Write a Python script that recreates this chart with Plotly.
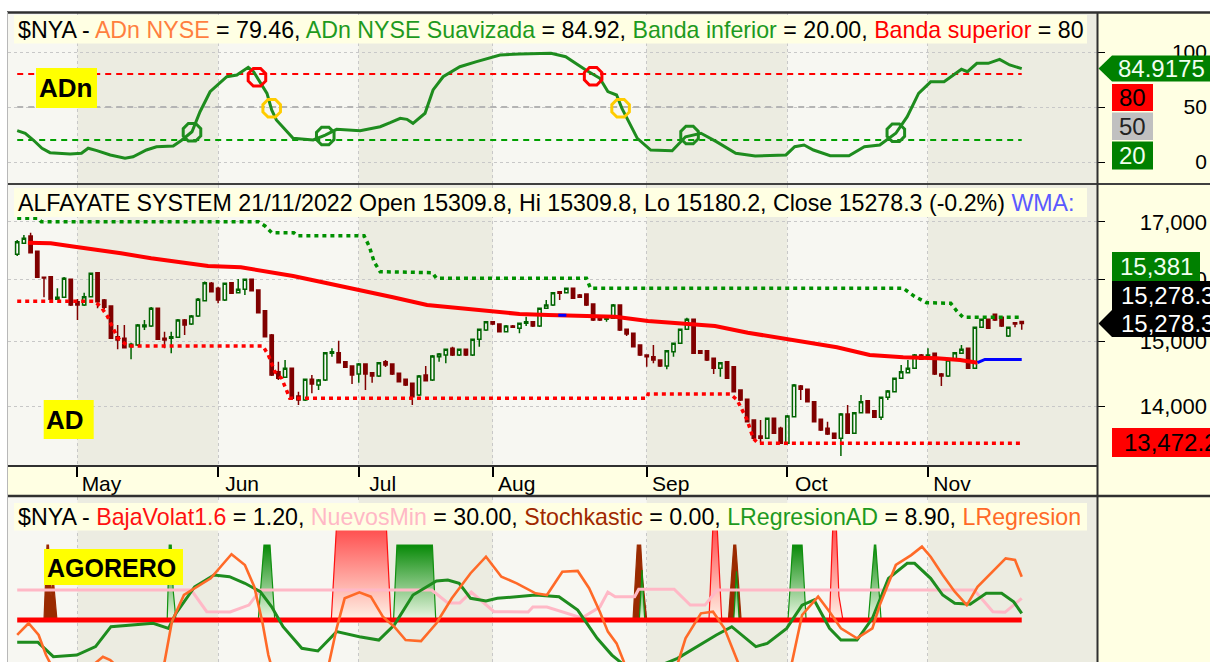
import math
import plotly.graph_objects as go

W, H = 1210, 662
FONT = "Liberation Sans, Arial, sans-serif"

# ---------------- data ----------------
month_idx = [9, 30, 51, 71, 94, 115, 136]
month_names = ["May", "Jun", "Jul", "Aug", "Sep", "Oct", "Nov"]

# ALFAYATE SYSTEM daily candles (bar index 0 = 19/04/2022 ... 150 = 21/11/2022)
ad_open = [16432, 16623, 16751, 16485, 16040, 16050, 15673, 15705, 16006, 15633,
           15579, 15716, 16117, 15661, 15563, 15068, 15043, 14911, 14937, 15226,
           15238, 15525, 15043, 15043, 15059, 15335, 15270, 15400, 15650, 15939,
           15855, 15661, 15949, 15781, 15838, 16006, 15826, 15486, 15095, 14524,
           14438, 14576, 14157, 14098, 14408, 14322, 14397, 14808, 14817, 14677,
           14611, 14489, 14642, 14509, 14458, 14677, 14642, 14499, 14408, 14347,
           14172, 14474, 14397, 14755, 14781, 14886, 14781, 14870, 14781, 15027,
           15174, 15308, 15270, 15147, 15238, 15201, 15281, 15308, 15238, 15525,
           15579, 15798, 15781, 15855, 15743, 15760, 15595, 15389, 15346, 15362,
           15579, 15185, 15122, 14937, 14781, 14755, 14703, 14611, 14833, 14964,
           15185, 15346, 14848, 14848, 14729, 14576, 14677, 14600, 14247, 14108,
           13805, 13574, 13541, 13830, 13685, 13470, 13853, 14307, 14257, 14073,
           13815, 13685, 13613, 13541, 13892, 13613, 13911, 14088, 13940, 13844,
           14138, 14221, 14423, 14509, 14576, 14781, 14729, 14807, 14489, 14458,
           14703, 14807, 14886, 14576, 15217, 15346, 15427, 15378, 15079, 15292,
           15309.8]
ad_high = [16681, 16769, 16809, 16494, 16045, 16055, 15855, 16045, 16015, 15677,
           15781, 16121, 16125, 15677, 15570, 15254, 15254, 14973, 15270, 15335,
           15546, 15533, 15147, 15147, 15351, 15351, 15416, 15694, 15969, 15960,
           15882, 15952, 15960, 16011, 16019, 16015, 15835, 15495, 15111, 14677,
           14703, 14584, 14221, 14420, 14474, 14412, 14828, 14886, 15005, 14685,
           14620, 14657, 14650, 14520, 14672, 14703, 14650, 14510, 14420, 14355,
           14474, 14611, 14781, 14812, 14883, 14911, 14883, 14880, 15040, 15198,
           15319, 15319, 15280, 15254, 15254, 15294, 15389, 15319, 15538, 15661,
           15793, 15810, 15868, 15868, 15760, 15770, 15605, 15416, 15400, 15595,
           15590, 15195, 15130, 14945, 14789, 14937, 14712, 14859, 14977, 15198,
           15373, 15359, 14859, 14855, 14740, 14672, 14685, 14610, 14255, 14115,
           13815, 13805, 13841, 13840, 13708, 13877, 14337, 14322, 14265, 14080,
           13825, 13780, 13620, 13906, 14024, 13921, 14172, 14095, 13950, 14150,
           14247, 14435, 14627, 14703, 14797, 14797, 14886, 14820, 14504, 14719,
           14828, 14937, 14898, 15230, 15359, 15359, 15440, 15389, 15230, 15302,
           15309.8]
ad_low = [16403, 16611, 16455, 16028, 15705, 15665, 15661, 15694, 15563, 15335,
          15563, 15711, 15525, 15513, 15032, 14870, 14883, 14714, 14921, 15174,
          15222, 15016, 14886, 14807, 15048, 15095, 15254, 15384, 15636, 15785,
          15607, 15645, 15760, 15768, 15743, 15801, 15440, 15056, 14459, 14397,
          14428, 14098, 14024, 14083, 14197, 14247, 14382, 14755, 14650, 14581,
          14337, 14356, 14247, 14356, 14443, 14596, 14474, 14360, 14307, 14024,
          14157, 14375, 14382, 14677, 14652, 14765, 14765, 14765, 14765, 14911,
          15158, 15254, 15134, 15134, 15206, 15121, 15238, 15222, 15222, 15513,
          15563, 15661, 15768, 15677, 15694, 15563, 15319, 15319, 15308, 15351,
          15158, 15079, 14898, 14765, 14600, 14652, 14596, 14561, 14755, 14953,
          15174, 14797, 14797, 14688, 14489, 14448, 14412, 14210, 14083, 13769,
          13531, 13479, 13531, 13603, 13460, 13460, 13841, 14098, 14061, 13769,
          13646, 13589, 13531, 13291, 13603, 13603, 13899, 13899, 13834, 13805,
          14098, 14210, 14412, 14496, 14565, 14703, 14714, 14474, 14307, 14443,
          14688, 14797, 14565, 14565, 15206, 15190, 15319, 15222, 15064, 15217,
          15180.2]
ad_close = [16651, 16711, 16460, 16040, 16028, 15673, 15705, 16023, 15579, 15579,
            15716, 16107, 15633, 15541, 15043, 15016, 14895, 14948, 15254, 15254,
            15525, 15027, 15016, 15068, 15335, 15254, 15400, 15673, 15949, 15798,
            15661, 15939, 15771, 15838, 16006, 15814, 15453, 15068, 14474, 14423,
            14576, 14123, 14098, 14408, 14337, 14397, 14817, 14833, 14662, 14591,
            14474, 14642, 14489, 14458, 14662, 14627, 14489, 14372, 14322, 14147,
            14458, 14386, 14765, 14797, 14870, 14781, 14870, 14781, 15027, 15185,
            15308, 15270, 15147, 15238, 15217, 15281, 15308, 15238, 15525, 15579,
            15781, 15771, 15855, 15689, 15705, 15579, 15335, 15335, 15378, 15579,
            15174, 15111, 14911, 14781, 14755, 14703, 14611, 14848, 14964, 15185,
            15346, 14807, 14807, 14703, 14576, 14662, 14423, 14221, 14098, 13780,
            13541, 13541, 13830, 13613, 13470, 13863, 14322, 14257, 14073, 13780,
            13660, 13603, 13541, 13892, 13613, 13911, 14073, 13911, 13844, 14138,
            14232, 14423, 14524, 14576, 14781, 14714, 14781, 14489, 14458, 14703,
            14817, 14870, 14576, 15217, 15346, 15201, 15335, 15238, 15217, 15270,
            15278.3]

# WMA (red while price below, blue while above)
wma_red_idx = [1.6, 5, 8.6, 13, 15.5, 20, 24.5, 28.5, 33.4, 36.4, 41.2, 46.3, 51.2,
               56.1, 61.2, 66.1, 71, 75, 79.3, 84.3, 89.3, 94.2, 99.3, 104.2, 109.1,
               113.2, 117.3, 122.4, 127.3, 132.3, 137.3, 140.8, 143.4]
wma_red_val = [16634, 16623, 16564, 16494, 16449, 16363, 16288, 16231, 16209, 16151,
               16061, 15938, 15826, 15705, 15579, 15525, 15469, 15432, 15416, 15405,
               15389, 15319, 15281, 15238, 15131, 15059, 14989, 14901, 14781, 14745,
               14729, 14703, 14661]
wma_blue_idx = [80.8, 82.0, None, 143.4, 144.5, 150]
wma_blue_val = [15412, 15410, None, 14661, 14712, 14712]

# upper / lower channel (dotted)
upper_idx = [0, 3.2, 3.6, 36, 37, 38, 41.3, 41.8, 51.8, 52.6, 53.3, 54.2, 62, 62.6,
             85, 85.6, 132.3, 134, 135.8, 139.4, 140.3, 141.2, 150]
upper_val = [17065, 17065, 17005, 17005, 16928, 16809, 16809, 16756, 16756, 16560,
             16300, 16134, 16117, 16023, 16023, 15855, 15855, 15720, 15617, 15607,
             15480, 15381, 15381]
lower_idx = [0, 11.5, 12.5, 13.5, 15, 16.5, 36.7, 37.5, 38.5, 39.5, 40.7, 94, 94.2,
             106.5, 107.5, 108.3, 109, 109.9, 110.6, 150]
lower_val = [15640, 15640, 15552, 15389, 15050, 14921, 14921, 14780, 14520, 14420,
             14123, 14123, 14187, 14187, 14098, 13950, 13805, 13541, 13472.2, 13472.2]

# ADn NYSE Suavizada
adn_idx = [0, 1.2, 2.4, 3.7, 4.9, 7.9, 9.6, 10.6, 11.9, 13.9, 16.1, 17.3, 19.3, 20.8,
           23.3, 24.6, 26.1, 27.3, 28.8, 30.2, 31.3, 32.8, 34.5, 35.3, 36, 37.3, 38,
           38.7, 41.2, 44.2, 46, 47.7, 51.2, 54.2, 55.7, 57.2, 58.2, 59.1, 60.9, 62.1,
           63.6, 66.1, 68.6, 72.1, 75, 79.7, 81.9, 84.9, 87, 88.2, 89.5, 90.3, 92.6,
           94.6, 97.8, 99.8, 102.1, 104.4, 107.3, 110.2, 114.8, 116.1, 117.5, 118.9,
           121.4, 124.2, 126.5, 128.8, 131.2, 132.9, 134.6, 136.4, 138.4, 141, 141.9,
           143.3, 145, 146.7, 148.2, 150]
adn_val = [28.5, 26.1, 20, 12.5, 8.5, 7.3, 7.9, 12.5, 10.3, 6.4, 3.4, 4.8, 10.9, 13.9,
           14.5, 20, 27.5, 45.7, 63.9, 71.5, 77.5, 79.1, 86.1, 82.1, 75.2, 62.4, 47.3,
           38.2, 21.5, 20, 24.5, 29.7, 28.5, 32.1, 35.7, 39.7, 38.8, 35.2, 44.3, 65.5,
           77.5, 86.6, 91.2, 97.3, 98.2, 98.8, 95.7, 83.6, 76.1, 64, 60.9, 48.8, 21.5,
           10.9, 10.3, 22.9, 26.1, 18.5, 7.9, 5.5, 6.4, 13.9, 15.5, 10.9, 5.7, 5.7,
           13.9, 15.5, 26.1, 41.2, 62.4, 72.9, 72.9, 84.3, 82.1, 89.7, 89.7, 93.3,
           88.2, 84.92]
band_sup, band_mid, band_inf = 80, 50, 20
cross_green_idx = [26.1, 46, 100.4, 131.2]
cross_green_val = [27, 23.6, 24.5, 26.6]
cross_red_idx = [35.8, 86]
cross_red_val = [77, 78]
cross_yellow_idx = [38, 90.1]
cross_yellow_val = [48.8, 48.8]

# AGORERO panel (common 0-100 display scale)
bajavolat_level = 25.5
nuevosmin_idx = [0, 26, 28.3, 31.8, 34.6, 36.3, 61.9, 64.3, 66.1, 67.8, 71.2, 76.3,
                 77, 79.1, 84.3, 87, 88.2, 89.3, 92.2, 92.8, 98.1, 100.5, 102.7, 104.5,
                 142.9, 145.7, 147.5, 150]
nuevosmin_val = [43.6, 43.6, 30.5, 30.3, 34.5, 43.6, 43.6, 35.8, 35.8, 42.4, 30.5,
                 30.3, 33.3, 33.3, 26.7, 33.3, 42.4, 39.6, 39.6, 44.1, 44.1, 34.5, 34.5,
                 43.6, 43.6, 30.5, 30.1, 38.6]
lregad_idx = [0, 3.1, 5.4, 8.9, 11.7, 14, 20.3, 22.6, 23.7, 26.5, 29.4, 31.7, 34, 36.3,
              38, 39.7, 42.5, 44.9, 47.7, 51.1, 54, 56.3, 59.1, 62.6, 64.3, 66, 67.7,
              70, 71.7, 74.6, 77.4, 80.9, 83.7, 86.6, 88.8, 91.5, 93.7, 98.6, 101.5,
              104.4, 106.7, 110.3, 112, 114.9, 117.2, 119, 121.3, 123, 125.4, 127.7,
              130.1, 132.9, 134, 136.4, 138.2, 140, 142.3, 144.7, 147, 148.8, 150]
lregad_val = [11.9, 11.9, 3.2, 4.2, 9.3, 21.4, 23.5, 20.4, 29.5, 45.6, 52.7, 51.7,
              47.7, 42.6, 33.5, 21.4, 8.3, 6.7, 18.4, 15.3, 13.3, 22.4, 40.6, 49.1,
              49.7, 47.7, 38.6, 37, 38.6, 39.6, 40.6, 39.6, 31.5, 14.4, 4.2, -4.8, -6,
              2.2, 9.3, 16.4, 21.4, 9.3, 11.3, 20.4, 34.5, 37.6, 20.4, 13.3, 13.3, 26.5,
              50.7, 59.8, 59.8, 50.7, 40.6, 35.6, 35, 41.6, 41.6, 36.5, 29.5]
lreg_idx = [0, 1.7, 3.2, 4.3, 5.6, 10.1, 12.8, 13.9, 16.2, 20.6, 22, 23.1, 24.9, 26.5,
            28.9, 30.6, 32, 34, 35.4, 36.6, 37.5, 38.2, 45.9, 46.6, 47.7, 48.9, 51.1,
            52.8, 54.6, 56.3, 58, 60.3, 62.6, 64.9, 67.7, 70, 72.3, 74.6, 77.4, 79.1,
            81.4, 83.7, 85.4, 87, 88.2, 89.5, 90.6, 91.6, 97.5, 98.7, 99.8, 102.1,
            103.9, 105.6, 107.3, 108.2, 114.8, 115.7, 117.2, 119.6, 121.3, 123, 125.4,
            127.7, 128.8, 131.2, 133.5, 135.1, 136.4, 138.2, 140, 141.8, 143.4, 145.1,
            147.6, 149, 150]
lreg_val = [16.4, 23.5, 16.4, 4.2, -6, -6, 3.2, 1.2, -7.9, -7.9, 0, 24.4, 40.6, 44.7,
            50.7, 58.8, 65.3, 58.8, 45.6, 24.4, 4.2, -6, -6, 0, 20.4, 38.6, 42.2, 39.6,
            27.5, 21.4, 13.3, 12.7, 23.5, 38.6, 53.8, 63.8, 51.7, 47.7, 41.6, 40.6,
            54.7, 55.2, 44.7, 30.5, 18.4, 11.3, 0, -7.9, -7.9, 0, 14.4, 29.5, 30.5,
            20.4, 4.2, -6, -6, 0, 28.5, 39.6, 30.5, 20.4, 14.4, 20.4, 34.5, 58.8, 64.8,
            69.9, 63.8, 52.7, 42.6, 34.5, 45.6, 52.7, 62.8, 61.8, 51.7]

# spikes: (kind, bar positions, heights)
spikes = [
    ("stoch", [4.0, 4.45, 4.67, 5.05, 5.35, 5.6, 5.94], [25.5, 70.9, 70.9, 40, 52, 40, 25.5]),
    ("up",    [22.4, 22.7, 23.0, 23.3, 23.7], [25.5, 70.9, 70.9, 43, 25.5]),
    ("up",    [36.0, 36.85, 37.75, 38.46], [25.5, 70.9, 70.9, 25.5]),
    ("low",   [46.9, 47.7, 55.1, 55.8], [25.5, 84, 84, 25.5]),
    ("up",    [56.2, 56.7, 62.0, 62.5], [25.5, 70.9, 70.9, 25.5]),
    ("stoch", [91.95, 92.6, 93.1, 93.4, 94.0], [25.5, 70.9, 70.9, 50, 25.5]),
    ("up",    [92.9, 93.3, 93.7], [25.5, 55.8, 25.5]),
    ("low",   [103.3, 103.9, 104.5, 105.2], [25.5, 84, 84, 25.5]),
    ("stoch", [106.2, 107.0, 107.3, 108.1], [25.5, 70.9, 70.9, 25.5]),
    ("up",    [107.0, 107.4, 107.8], [25.5, 55, 25.5]),
    ("up",    [115.1, 115.8, 117.2, 117.8], [25.5, 70.9, 70.9, 25.5]),
    ("low",   [121.3, 121.8, 122.3, 122.7, 123.3], [25.5, 84, 84, 40, 25.5]),
    ("up",    [127.1, 128.0, 128.2, 129.0], [25.5, 70.9, 70.9, 25.5]),
]

# ---------------- geometry ----------------
def px(x):
    return x / W

def py(y):
    return 1 - y / H

X_RANGE = [-1.374, 161.24]
X_DOM = [px(8), px(1097)]
P1 = (13, 183)
P2 = (185, 465)
P3 = (497, 662)
Y1_RANGE = [-19.09, 135.45]
Y2_RANGE = [4.11947, 4.247324]
Y3_RANGE = [0, 100]

def y1_px(v):
    return P1[0] + (Y1_RANGE[1] - v) / (Y1_RANGE[1] - Y1_RANGE[0]) * (P1[1] - P1[0])

def y2_px(v):
    return P2[0] + (Y2_RANGE[1] - math.log10(v)) / (Y2_RANGE[1] - Y2_RANGE[0]) * (P2[1] - P2[0])

n = len(ad_close)
bars = list(range(n))

GREEN = "#1E8C1E"
TITLE_SIZE = 23.2
BOX_SIZE = 24
fig = go.Figure()

# ---------- panel 1 ----------
for lvl, col in [(band_sup, "#FF0000"), (band_mid, "#B4B4B4"), (band_inf, "#00A000")]:
    fig.add_trace(go.Scatter(x=[bars[0], bars[-1]], y=[lvl, lvl], mode="lines",
                             line=dict(color=col, width=2, dash="6px,5px"),
                             xaxis="x", yaxis="y", hoverinfo="skip"))
fig.add_trace(go.Scatter(x=adn_idx, y=adn_val, mode="lines",
                         line=dict(color=GREEN, width=3), xaxis="x", yaxis="y"))
for xs, ys, col in [(cross_green_idx, cross_green_val, GREEN),
                    (cross_red_idx, cross_red_val, "#FF0000"),
                    (cross_yellow_idx, cross_yellow_val, "#FFCC00")]:
    fig.add_trace(go.Scatter(x=xs, y=ys, mode="markers", xaxis="x", yaxis="y",
                             marker=dict(symbol="octagon-open", size=19, color=col,
                                         line=dict(width=3, color=col))))
fig.add_trace(go.Scatter(x=[None], y=[None], xaxis="x", yaxis="y4", hoverinfo="skip"))

# ---------- panel 2 ----------
fig.add_trace(go.Scatter(x=upper_idx, y=upper_val, mode="lines", xaxis="x2", yaxis="y2",
                         line=dict(color="#009000", width=3.5, dash="4px,4px")))
fig.add_trace(go.Scatter(x=lower_idx, y=lower_val, mode="lines", xaxis="x2", yaxis="y2",
                         line=dict(color="#FF0000", width=3.5, dash="4px,4px")))
fig.add_trace(go.Scatter(x=wma_red_idx, y=wma_red_val, mode="lines", xaxis="x2", yaxis="y2",
                         line=dict(color="#FF0000", width=4)))
fig.add_trace(go.Scatter(x=wma_blue_idx, y=wma_blue_val, mode="lines", xaxis="x2", yaxis="y2",
                         line=dict(color="#0000FF", width=3), connectgaps=False))
fig.add_trace(go.Candlestick(x=bars, open=ad_open, high=ad_high, low=ad_low, close=ad_close,
                             xaxis="x2", yaxis="y2", whiskerwidth=0,
                             increasing=dict(line=dict(color="#006400", width=1.5),
                                             fillcolor="rgba(255,255,255,0.55)"),
                             decreasing=dict(line=dict(color="#800000", width=1.5),
                                             fillcolor="#800000")))
fig.add_trace(go.Scatter(x=[None], y=[None], xaxis="x2", yaxis="y5", hoverinfo="skip"))

# ---------- panel 3 ----------
for kind, xs, ys in spikes:
    if kind == "stoch":
        fig.add_trace(go.Scatter(x=xs, y=ys, fill="toself", mode="lines",
                                 line=dict(color="#9A2A00", width=1.2), fillcolor="#9A2A00",
                                 xaxis="x3", yaxis="y3", hoverinfo="skip"))
    elif kind == "up":
        fig.add_trace(go.Scatter(x=xs, y=ys, fill="toself", mode="lines",
                                 line=dict(color="#109010", width=1.2),
                                 fillgradient=dict(type="vertical",
                                                   colorscale=[[0, "#EEF8E6"], [1, "#088A08"]],
                                                   start=bajavolat_level, stop=max(ys)),
                                 xaxis="x3", yaxis="y3", hoverinfo="skip"))
    else:
        fig.add_trace(go.Scatter(x=xs, y=ys, fill="toself", mode="lines",
                                 line=dict(color="#FF1010", width=1.2),
                                 fillgradient=dict(type="vertical",
                                                   colorscale=[[0, "#FFF2E6"], [1, "#FF5050"]],
                                                   start=bajavolat_level, stop=80),
                                 xaxis="x3", yaxis="y3", hoverinfo="skip"))
fig.add_trace(go.Scatter(x=nuevosmin_idx, y=nuevosmin_val, mode="lines", xaxis="x3", yaxis="y3",
                         line=dict(color="#FFB8C6", width=3)))
fig.add_trace(go.Scatter(x=[bars[0], bars[-1]], y=[bajavolat_level, bajavolat_level], mode="lines",
                         xaxis="x3", yaxis="y3", line=dict(color="#FF0000", width=5)))
fig.add_trace(go.Scatter(x=lregad_idx, y=lregad_val, mode="lines", xaxis="x3", yaxis="y3",
                         line=dict(color=GREEN, width=3)))
fig.add_trace(go.Scatter(x=lreg_idx, y=lreg_val, mode="lines", xaxis="x3", yaxis="y3",
                         line=dict(color="#FF6A28", width=2.6)))

# ---------------- axes ----------------
grid = dict(showgrid=True, gridcolor="#C8C8C8", griddash="dot", gridwidth=1)
xcommon = dict(range=X_RANGE, domain=X_DOM, tickmode="array", tickvals=month_idx,
               zeroline=False, showline=False, **grid)
layout = dict(
    width=W, height=H, margin=dict(l=0, r=0, t=0, b=0),
    paper_bgcolor="#FFFFE3", plot_bgcolor="#F7F7F2", showlegend=False,
    font=dict(family=FONT, size=20, color="#000"),
    xaxis=dict(anchor="y", showticklabels=False, ticks="", **xcommon),
    xaxis2=dict(anchor="y2", ticks="outside", ticklen=10, tickwidth=1.5, tickcolor="#000",
                ticktext=month_names, ticklabelshift=24, ticklabelstandoff=-11,
                tickfont=dict(size=21, color="#000"), rangeslider=dict(visible=False),
                **{k: v for k, v in xcommon.items()}),
    xaxis3=dict(anchor="y3", showticklabels=False, ticks="", **xcommon),
    yaxis=dict(domain=[py(P1[1]), py(P1[0])], anchor="x", range=Y1_RANGE, side="right",
               tickvals=[0, 50, 100], ticks="outside", ticklen=7, tickcolor="#000",
               showticklabels=False, zeroline=False, **grid),
    yaxis4=dict(overlaying="y", anchor="free", position=0.9975, side="left", range=Y1_RANGE,
                tickvals=[0, 50, 100], ticktext=["0", "50", "100"], ticks="",
                showgrid=False, zeroline=False, showline=False,
                tickfont=dict(size=21, color="#000")),
    yaxis2=dict(domain=[py(P2[1]), py(P2[0])], anchor="x2", type="log", range=Y2_RANGE,
                side="right", tickvals=[14000, 15000, 16000, 17000], ticks="outside",
                ticklen=7, tickcolor="#000", showticklabels=False, zeroline=False, **grid),
    yaxis5=dict(overlaying="y2", anchor="free", position=0.9975, side="left", type="log",
                range=Y2_RANGE, tickvals=[14000, 15000, 16000, 17000],
                ticktext=["14,000", "15,000", "16,000", "17,000"], ticks="",
                showgrid=False, zeroline=False, showline=False,
                tickfont=dict(size=22, color="#000")),
    yaxis3=dict(domain=[0, py(P3[0])], anchor="x3", range=Y3_RANGE, showgrid=False,
                showticklabels=False, ticks="", zeroline=False),
)
fig.update_layout(**layout)
fig.update_xaxes(selector=dict(anchor="y2"), showline=True, linecolor="#303030", linewidth=2)

shapes = []
annotations = []

# month shading bands
grey_bands = [(month_idx[0], month_idx[1]), (month_idx[2], month_idx[3]),
              (month_idx[4], month_idx[5]), (month_idx[6], X_RANGE[1])]
for xr, yr in [("x", "y"), ("x2", "y2"), ("x3", "y3")]:
    for a, b in grey_bands:
        shapes.append(dict(type="rect", xref=xr, yref=yr + " domain", x0=a, x1=b, y0=0, y1=1,
                           fillcolor="#ECECE1", line=dict(width=0), layer="below"))

def prect(x0, y0, x1, y1, fill, layer="above"):
    shapes.append(dict(type="rect", xref="paper", yref="paper", x0=px(x0), x1=px(x1),
                       y0=py(y1), y1=py(y0), fillcolor=fill, line=dict(width=0), layer=layer))

def pline(x0, y0, x1, y1, col, w):
    shapes.append(dict(type="line", xref="paper", yref="paper", x0=px(x0), x1=px(x1),
                       y0=py(y0), y1=py(y1), line=dict(color=col, width=w), layer="above"))

def ptext(x, y, text, size=20, color="#000", anchor="left", bold=False):
    annotations.append(dict(xref="paper", yref="paper", x=px(x), y=py(y), text=text,
                            showarrow=False, xanchor=anchor, yanchor="middle",
                            font=dict(size=size, color=color, family=FONT,
                                      weight="bold" if bold else "normal")))

def tag(y_center, half, fill, tip_x=1098.5):
    path = "M {a},{b} L {c},{d} L {e},{d} L {e},{f} L {c},{f} Z".format(
        a=px(tip_x), b=py(y_center), c=px(1112), d=py(y_center - half), e=px(1215),
        f=py(y_center + half))
    shapes.append(dict(type="path", xref="paper", yref="paper", path=path,
                       fillcolor=fill, line=dict(width=0), layer="above"))

# outer white strips
prect(0, 0, W, 12, "#FFFFFF")
prect(0, 0, 7, H, "#FFFFFF")

# title bars
prect(14, 15, 1087, 43.5, "#FFFFE3")
prect(14, 188, 1087, 217, "#FFFFE3")
prect(14, 503, 1087, 530.5, "#FFFFE3")

t1 = ('$NYA - <span style="color:#FF7F3F">ADn NYSE</span> = 79.46, '
      '<span style="color:#1E9A1E">ADn NYSE Suavizada</span> = 84.92, '
      '<span style="color:#1E9A1E">Banda inferior</span> = 20.00, '
      '<span style="color:#FF0000">Banda superior</span> = 80')
t2 = ('ALFAYATE SYSTEM 21/11/2022 Open 15309.8, Hi 15309.8, Lo 15180.2, '
      'Close 15278.3 (-0.2%) <span style="color:#5A5AFF">WMA:</span>')
t3 = ('$NYA - <span style="color:#FF1010">BajaVolat1.6</span> = 1.20, '
      '<span style="color:#FFB8C6">NuevosMin</span> = 30.00, '
      '<span style="color:#A02800">Stochkastic</span> = 0.00, '
      '<span style="color:#1E9A1E">LRegresionAD</span> = 8.90, '
      '<span style="color:#FF6A28">LRegresion</span>')
ptext(15.5, 30, t1, size=TITLE_SIZE)
ptext(15.5, 202.5, t2, size=TITLE_SIZE)
ptext(15.5, 517, t3, size=TITLE_SIZE)

# yellow name labels
prect(36, 68, 97, 108, "#FFFF00")
ptext(36.5, 88, "ADn", size=26, bold=True)
prect(43.7, 400, 93.7, 439, "#FFFF00")
ptext(44.2, 419.5, "AD", size=26, bold=True)
prect(44, 549, 183, 585, "#FFFF00")
ptext(44.5, 567.5, "AGORERO", size=25, bold=True)

# right-side value boxes, panel 1
yc = y1_px(adn_val[-1])
tag(yc, 13, "#008000")
ptext(1116, yc, "84.9175", size=BOX_SIZE, color="#F0FFF0")
prect(1112, 84, 1153, 111, "#FF0000")
ptext(1132.5, 97.5, "80", size=BOX_SIZE, anchor="center")
prect(1112, 112.5, 1153, 140, "#C0C0C0")
ptext(1132.5, 126.5, "50", size=BOX_SIZE, color="#222", anchor="center")
prect(1112, 141.5, 1153, 169.5, "#008000")
ptext(1132.5, 155.5, "20", size=BOX_SIZE, color="#F0FFF0", anchor="center")

# right-side value boxes, panel 2
prect(1112, 252, 1200, 281, "#008000")
ptext(1156, 266.5, "{:,.0f}".format(upper_val[-1]), size=BOX_SIZE, color="#F0FFF0", anchor="center")
prect(1112, 281, 1215, 310, "#000000")
ptext(1119, 295.5, "{:,.1f}".format(ad_close[-1]), size=BOX_SIZE, color="#FFFFFF")
yc2 = y2_px(ad_close[-1])
tag(yc2, 13.5, "#000000")
ptext(1119, yc2, "{:,.1f}".format(ad_close[-1]), size=BOX_SIZE, color="#FFFFFF")
prect(1112, 428, 1215, 457, "#FF0000")
ptext(1122, 442.5, "{:,.1f}".format(lower_val[-1]), size=BOX_SIZE, color="#000")

# frame lines
pline(7, 12.5, W, 12.5, "#303030", 2.5)
pline(7, 184, W, 184, "#404040", 2)
pline(7, 496, W, 496, "#303030", 2.5)
pline(1097.5, 12, 1097.5, H, "#303030", 2)
pline(7.5, 12, 7.5, H, "#B8B8B8", 1)

fig.update_layout(shapes=shapes, annotations=annotations)
fig.write_html("out.html")
